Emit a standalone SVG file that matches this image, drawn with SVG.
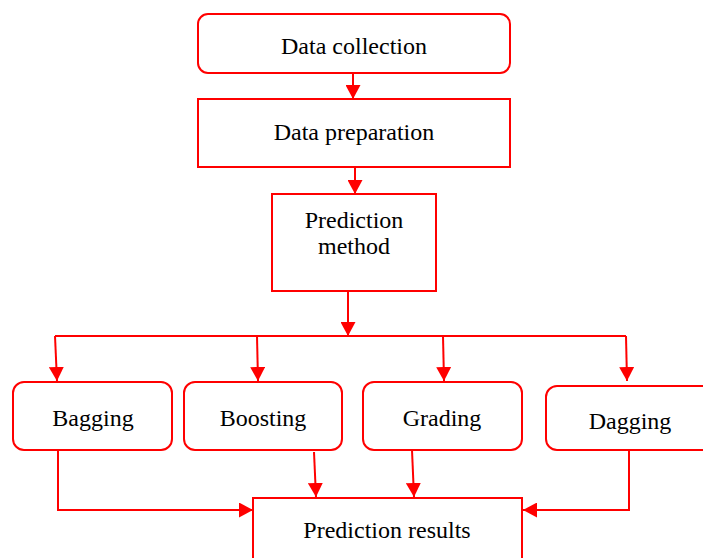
<svg xmlns="http://www.w3.org/2000/svg" width="703" height="558" viewBox="0 0 703 558">
<style>
.box{fill:#fff;stroke:#ff0000;stroke-width:2}
.lbl{font-family:"Liberation Serif","Times New Roman",serif;font-size:24px;fill:#000;text-anchor:middle}
.con{fill:none;stroke:#ff0000;stroke-width:2}
</style>
<defs>
<marker id="ah" markerUnits="userSpaceOnUse" markerWidth="14" markerHeight="15" refX="14" refY="7.5" orient="auto">
<path d="M0,0 L14,7.5 L0,15 z" fill="#ff0000"/>
</marker>
</defs>
<rect width="703" height="558" fill="#fff"/>
<g id="connectors">
<path class="con" d="M353,73 L353,99" marker-end="url(#ah)"/>
<path class="con" d="M355,167 L355,194" marker-end="url(#ah)"/>
<path class="con" d="M348,291 L348,336"/>
<path class="con" d="M348,321 L348,336" marker-end="url(#ah)"/>
<path class="con" d="M55,336 L626,336"/>
<path class="con" d="M55,336 L57,381" marker-end="url(#ah)"/>
<path class="con" d="M257,336 L258,381" marker-end="url(#ah)"/>
<path class="con" d="M443,336 L444,381" marker-end="url(#ah)"/>
<path class="con" d="M626,336 L627,381" marker-end="url(#ah)"/>
<path class="con" d="M58,450 L58,510 L253,510" marker-end="url(#ah)"/>
<path class="con" d="M314,452 L316,497" marker-end="url(#ah)"/>
<path class="con" d="M412,450 L414,497" marker-end="url(#ah)"/>
<path class="con" d="M629,450 L629,510 L523,510" marker-end="url(#ah)"/>
</g>
<g id="data-collection">
<rect class="box" x="198" y="14" width="312" height="59" rx="10"/>
<text class="lbl" x="354" y="54">Data collection</text>
</g>
<g id="data-preparation">
<rect class="box" x="198" y="99" width="312" height="68"/>
<text class="lbl" x="354" y="140">Data preparation</text>
</g>
<g id="prediction-method">
<rect class="box" x="272" y="194" width="164" height="97"/>
<text class="lbl" x="354" y="228">Prediction</text>
<text class="lbl" x="354" y="254">method</text>
</g>
<g id="bagging">
<rect class="box" x="13" y="382" width="159" height="68" rx="11"/>
<text class="lbl" x="93" y="426">Bagging</text>
</g>
<g id="boosting">
<rect class="box" x="184" y="382" width="158" height="68" rx="11"/>
<text class="lbl" x="263" y="426">Boosting</text>
</g>
<g id="grading">
<rect class="box" x="363" y="382" width="159" height="68" rx="11"/>
<text class="lbl" x="442" y="426">Grading</text>
</g>
<g id="dagging">
<rect class="box" x="546" y="386" width="180" height="64" rx="11"/>
<text class="lbl" x="630" y="429">Dagging</text>
</g>
<g id="prediction-results">
<rect class="box" x="253" y="498" width="269" height="80"/>
<text class="lbl" x="387" y="538">Prediction results</text>
</g>
</svg>
